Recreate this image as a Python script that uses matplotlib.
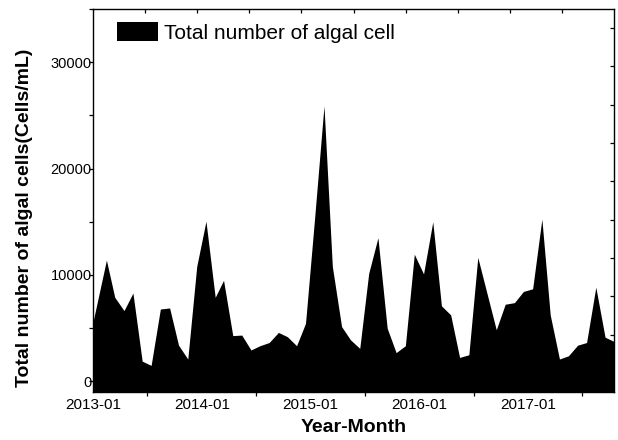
import matplotlib
matplotlib.use("Agg")
import matplotlib.pyplot as plt
import matplotlib.dates as mdates
from matplotlib.ticker import MultipleLocator, NullFormatter
import numpy as np
import pandas as pd

plt.rcParams['font.family'] = ['Liberation Sans', 'DejaVu Sans']

# Sampling dates (one sample per month, none in August 2016)
sample_dates = [
    "2013-01-01", "2013-02-15", "2013-03-15", "2013-04-15", "2013-05-15", "2013-06-15",
    "2013-07-15", "2013-08-15", "2013-09-15", "2013-10-15", "2013-11-15", "2013-12-15",
    "2014-01-15", "2014-02-15", "2014-03-15", "2014-04-15", "2014-05-15", "2014-06-15",
    "2014-07-15", "2014-08-15", "2014-09-15", "2014-10-15", "2014-11-15", "2014-12-15",
    "2015-01-15", "2015-02-15", "2015-03-15", "2015-04-15", "2015-05-15", "2015-06-15",
    "2015-07-15", "2015-08-15", "2015-09-15", "2015-10-15", "2015-11-15", "2015-12-15",
    "2016-01-15", "2016-02-15", "2016-03-15", "2016-04-15", "2016-05-15", "2016-06-15",
    "2016-07-15", "2016-09-15", "2016-10-15", "2016-11-15", "2016-12-15",
    "2017-01-15", "2017-02-15", "2017-03-15", "2017-04-15", "2017-05-15", "2017-06-15",
    "2017-07-15", "2017-08-15", "2017-09-15", "2017-10-15",
]

# Total algal cell density (cells/mL)
cell_counts = [
    5600, 11400, 7900, 6650, 8300, 1900, 1500, 6800, 6900, 3400, 2100, 10800,
    15050, 7900, 9500, 4300, 4350, 2950, 3350, 3650, 4600, 4200, 3350, 5450,
    15500, 25900, 10800, 5150, 3900, 3100, 10150, 13500, 5000, 2700, 3350, 11950,
    10100, 15000, 7100, 6250, 2250, 2500, 11650, 4850, 7250, 7400, 8450,
    8700, 15250, 6250, 2100, 2400, 3400, 3650, 8850, 4150, 3750,
]

series_label = "Total number of algal cell"
y_ticks = [0, 10000, 20000, 30000]
y_range = (-1000, 35000)

dates = pd.to_datetime(sample_dates)

W, H = 618, 440
fig = plt.figure(figsize=(W / 100, H / 100), dpi=100)
ax_box = [93 / W, (H - 392) / H, 521 / W, 383 / H]
ax = fig.add_axes(ax_box)

ax.fill_between(dates, cell_counts, y_range[0], color="black", linewidth=0,
                label=series_label)

ax.set_xlim(dates[0], dates[-1])
ax.set_ylim(*y_range)

# y axis
ax.set_yticks(y_ticks)
ax.yaxis.set_minor_locator(MultipleLocator(5000))
ax.tick_params(axis="y", which="both", direction="out", length=3, width=0.9,
               labelsize=10.5, pad=-2)

# x axis: year labels at January, small ticks at mid-year
ax.xaxis.set_major_locator(mdates.YearLocator(1, month=1, day=1))
ax.xaxis.set_major_formatter(mdates.DateFormatter("%Y-%m"))
ax.xaxis.set_minor_locator(mdates.MonthLocator(bymonth=7))
ax.xaxis.set_minor_formatter(NullFormatter())
ax.tick_params(axis="x", which="major", length=0, labelsize=11, pad=4)
ax.tick_params(axis="x", which="minor", direction="out", length=3, width=0.9)
ax.tick_params(top=False, right=False)

for s in ax.spines.values():
    s.set_linewidth(1.0)

ax.set_xlabel("Year-Month", fontsize=14, fontweight="bold", labelpad=5)
ax.set_ylabel("Total number of algal cells(Cells/mL)", fontsize=14, fontweight="bold")
ax.yaxis.set_label_coords(-0.116, 0.455)

ax.legend(loc="upper left", bbox_to_anchor=(0.046, 0.966), frameon=False,
          fontsize=15, handlelength=1.95, handleheight=1.05, handletextpad=0.32,
          borderpad=0, borderaxespad=0)

# inward ticks along the top and right frame
ov = fig.add_axes(ax_box, facecolor="none")
ov.set_xlim(0, 1)
ov.set_ylim(0, 1)
for s in ov.spines.values():
    s.set_visible(False)
ov.xaxis.tick_top()
ov.yaxis.tick_right()
ov.set_xticks(np.arange(1, 10) / 10)
ov.set_yticks(np.arange(10) / 10 + 0.05)
ov.tick_params(direction="in", length=3, width=0.9, labeltop=False, labelright=False,
               labelbottom=False, labelleft=False, bottom=False, left=False)

fig.savefig("out.png", dpi=100)
